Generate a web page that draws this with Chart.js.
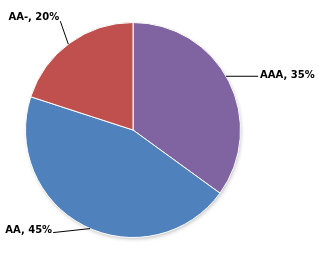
<!DOCTYPE html>
<html lang="en">
<head>
    <meta charset="UTF-8">
    <title>Pie</title>
    <script src="https://cdn.jsdelivr.net/npm/chart.js"></script>
    <style>
        body { margin: 0; background: #fff; }
        #wrap { width: 324px; height: 253px; }
    </style>
</head>
<body>
    <div id="wrap"><canvas id="pieChart"></canvas></div>

    <script>
        const categories = ["AAA", "AA", "AA-"];
        const shares = [35, 45, 20];
        const colors = ["#8064A2", "#4F81BD", "#C0504D"];

        // leader start: angle nudge (deg) from slice middle; label anchor offset from that point
        const labelOffsets = [
            { nudge: -3, dx: 32, dy: 0, align: "left", ty: -1 },
            { nudge: -3.5, dx: -37, dy: 4, align: "right", ty: -2 },
            { nudge: -1, dx: -8, dy: -23, align: "right", ty: -4 }
        ];

        const shadowPlugin = {
            id: "shadow",
            beforeDatasetsDraw(chart) {
                const arc = chart.getDatasetMeta(0).data[0];
                if (!arc) return;
                const ctx = chart.ctx;
                ctx.save();
                ctx.shadowColor = "rgba(0,0,0,0.3)";
                ctx.shadowBlur = 4;
                ctx.shadowOffsetX = 1;
                ctx.shadowOffsetY = 2;
                ctx.fillStyle = "#fff";
                ctx.beginPath();
                ctx.arc(arc.x, arc.y, arc.outerRadius - 1, 0, Math.PI * 2);
                ctx.fill();
                ctx.restore();
            }
        };

        const labelPlugin = {
            id: "outLabels",
            afterDatasetsDraw(chart) {
                const ctx = chart.ctx;
                const arcs = chart.getDatasetMeta(0).data;
                ctx.save();
                ctx.font = "bold 10px 'DejaVu Sans'";
                ctx.textBaseline = "middle";
                ctx.strokeStyle = "#000";
                ctx.lineWidth = 1;
                ctx.fillStyle = "#000";
                arcs.forEach((arc, i) => {
                    const o = labelOffsets[i];
                    const mid = (arc.startAngle + arc.endAngle) / 2 + o.nudge * Math.PI / 180;
                    const ex = arc.x + Math.cos(mid) * arc.outerRadius;
                    const ey = arc.y + Math.sin(mid) * arc.outerRadius;
                    const ax = ex + o.dx;
                    const ay = ey + o.dy;
                    ctx.beginPath();
                    ctx.moveTo(ex, ey);
                    ctx.lineTo(ax, ay);
                    ctx.stroke();
                    const text = categories[i] + ", " + shares[i] + "%";
                    ctx.textAlign = o.align;
                    const tx = o.align === "left" ? ax + 2 : ax - 1;
                    ctx.fillText(text, tx, ay + o.ty);
                });
                ctx.restore();
            }
        };

        new Chart(document.getElementById("pieChart"), {
            type: "pie",
            data: {
                labels: categories,
                datasets: [{
                    data: shares,
                    backgroundColor: colors,
                    borderColor: "#ffffff",
                    borderWidth: 1
                }]
            },
            options: {
                responsive: true,
                maintainAspectRatio: false,
                animation: false,
                layout: { padding: { left: 25, right: 83, top: 22, bottom: 15 } },
                plugins: {
                    legend: { display: false },
                    tooltip: { enabled: false }
                }
            },
            plugins: [shadowPlugin, labelPlugin]
        });
    </script>
</body>
</html>
